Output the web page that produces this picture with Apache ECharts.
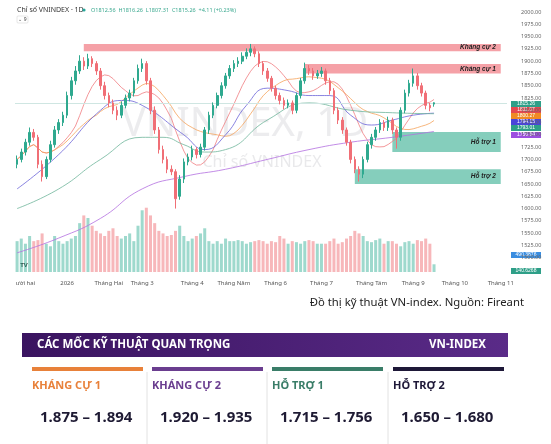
<!DOCTYPE html>
<html><head><meta charset="utf-8">
<script src="https://cdn.jsdelivr.net/npm/echarts@6/dist/echarts.min.js"></script>
<style>html,body{margin:0;padding:0;background:#fff}#c{width:551px;height:444px}</style>
</head><body><div id="c"></div>
<script>
const closes=[1700,1715,1735,1755,1745,1690,1665,1700,1730,1760,1775,1790,1830,1860,1880,1900,1890,1905,1895,1880,1850,1830,1815,1800,1790,1810,1825,1835,1860,1885,1895,1860,1800,1760,1720,1700,1680,1675,1620,1660,1695,1705,1720,1710,1725,1760,1790,1810,1830,1850,1870,1885,1895,1900,1910,1918,1925,1915,1895,1880,1865,1845,1830,1820,1810,1815,1800,1830,1860,1885,1880,1870,1875,1880,1860,1840,1800,1780,1760,1735,1700,1680,1670,1700,1730,1745,1760,1775,1765,1780,1760,1745,1800,1835,1855,1870,1850,1835,1810,1805,1815.26];
const opens=[1690,1700,1715,1735,1755,1745,1690,1665,1700,1730,1760,1775,1790,1830,1860,1880,1900,1890,1905,1895,1880,1850,1830,1815,1800,1790,1810,1825,1835,1860,1885,1895,1860,1800,1760,1720,1700,1680,1675,1625,1660,1695,1705,1720,1710,1725,1760,1790,1810,1830,1850,1870,1885,1895,1900,1910,1918,1925,1915,1895,1880,1865,1845,1830,1820,1810,1815,1800,1830,1860,1885,1880,1870,1875,1880,1860,1840,1800,1780,1760,1735,1700,1680,1670,1700,1730,1745,1760,1775,1765,1780,1760,1745,1800,1835,1855,1870,1850,1835,1810,1812.56];
const highs=[1708,1722,1742,1765,1762,1750,1698,1706,1738,1768,1782,1797,1838,1868,1890,1912,1908,1915,1910,1900,1886,1858,1836,1822,1808,1818,1832,1842,1866,1893,1905,1900,1866,1808,1766,1728,1706,1688,1680,1668,1702,1712,1728,1725,1732,1766,1797,1816,1836,1857,1876,1892,1902,1908,1918,1926,1935,1930,1920,1900,1886,1870,1850,1836,1826,1822,1820,1836,1866,1897,1892,1886,1882,1888,1885,1866,1845,1806,1786,1765,1740,1706,1686,1706,1736,1752,1766,1782,1780,1787,1785,1765,1806,1842,1862,1885,1876,1856,1840,1815,1816.26];
const lows=[1682,1694,1708,1728,1738,1682,1655,1660,1694,1724,1752,1768,1784,1822,1852,1874,1882,1884,1888,1872,1842,1822,1806,1792,1780,1784,1804,1818,1828,1854,1878,1852,1792,1752,1712,1692,1672,1668,1600,1618,1652,1688,1698,1702,1704,1718,1752,1784,1804,1824,1844,1864,1878,1888,1894,1904,1910,1908,1888,1872,1858,1838,1822,1812,1802,1804,1792,1794,1824,1854,1872,1862,1864,1868,1852,1832,1792,1772,1752,1728,1692,1672,1655,1662,1694,1722,1738,1754,1758,1758,1752,1722,1738,1794,1828,1848,1842,1828,1802,1798,1807.31];
const volumes=[60,65,55,70,60,62,75,55,50,70,60,55,60,65,70,95,110,105,90,80,75,70,80,85,70,65,70,75,60,90,120,125,110,95,80,75,70,72,80,90,70,60,65,70,75,85,60,55,60,55,65,60,60,62,60,55,58,60,62,60,55,60,58,70,65,55,60,58,55,60,62,60,55,55,55,60,65,55,58,65,70,80,75,70,60,58,62,65,55,60,60,55,50,58,60,55,62,60,65,55,15];
const maIdx=[0,10,20,25,30,40,45,50,55,60,65,70,75,80,85,90,95,100];
const maBlueVals=[1640,1710,1800,1820,1810,1750,1720,1750,1810,1845,1840,1830,1830,1790,1770,1780,1790,1794.15];
const maGreenIdx=[0,10,20,30,35,40,45,50,60,70,80,90,100];
const maGreenVals=[1600,1640,1700,1745,1745,1730,1715,1720,1780,1815,1800,1795,1793.01];
const maPurpleIdx=[0,10,20,30,40,50,60,70,80,90,100];
const maPurpleVals=[1510,1540,1580,1640,1665,1680,1700,1720,1735,1745,1756.84];
const monthLabels={2:'ười hai',12:'2026',22:'Tháng Hai',30:'Tháng 3',42:'Tháng 4',52:'Tháng Năm',62:'Tháng 6',73:'Tháng 7',85:'Tháng Tám',95:'Tháng 9',105:'Tháng 10',116:'Tháng 11'};
const zones=[
 {name:'Kháng cự 2',lo:1920,hi:1935,from:16,color:'rgba(242,130,138,0.75)'},
 {name:'Kháng cự 1',lo:1875,hi:1894,from:69,color:'rgba(242,130,138,0.75)'},
 {name:'Hỗ trợ 1',lo:1715,hi:1756,from:90,color:'rgba(92,190,165,0.75)'},
 {name:'Hỗ trợ 2',lo:1650,hi:1680,from:81,color:'rgba(92,190,165,0.75)'}];
const N=118;
const cats=[];for(let i=0;i<N;i++)cats.push(String(i));
function sparse(idx,vals){const a=new Array(N).fill(null);idx.forEach((k,j)=>a[k]=vals[j]);return a;}
function ma(n){return closes.map((v,i)=>{const s=closes.slice(Math.max(0,i-n+1),i+1);return +(s.reduce((a,b)=>a+b,0)/s.length).toFixed(2);});}
const up='#2fa98f',dn='#f06f76';
const candle=closes.map((c,i)=>[opens[i],c,lows[i],highs[i]]);
const vol=volumes.map((v,i)=>({value:v,itemStyle:{color:closes[i]>=opens[i]?'rgba(61,179,156,0.5)':'rgba(240,111,118,0.5)'}}));
const chart=echarts.init(document.getElementById('c'));
const tag=(y,t,c)=>({type:'group',children:[{type:'rect',shape:{x:511,y:y-3,width:30,height:6},style:{fill:c}},{type:'text',style:{x:526,y:y,text:t,fill:'#fff',font:'5px sans-serif',align:'center',verticalAlign:'middle'}}]});
chart.setOption({
 animation:false,
 grid:[{left:15,right:44,top:12,bottom:174},{left:15,right:44,top:200,bottom:172}],
 xAxis:[{type:'category',data:cats,gridIndex:0,boundaryGap:true,axisLine:{show:false},axisTick:{show:false},axisLabel:{show:false},splitLine:{show:false}},
  {type:'category',data:cats,gridIndex:1,boundaryGap:true,axisLine:{show:false},axisTick:{show:false},splitLine:{show:false},
   axisLabel:{interval:0,formatter:(v,i)=>monthLabels[i]||'',color:'#555',fontSize:6,margin:8,fontFamily:'Noto Sans'}}],
 yAxis:[{type:'value',gridIndex:0,position:'right',min:1475,max:2000,interval:25,splitLine:{show:false},axisLine:{show:false},axisTick:{show:false},
   axisLabel:{formatter:v=>v>=1500?v.toFixed(2):'',fontSize:5.5,color:'#666',margin:14,fontFamily:'Noto Sans'}},
  {type:'value',gridIndex:1,max:140,show:false}],
 series:[
  {type:'bar',xAxisIndex:1,yAxisIndex:1,data:vol,barWidth:3,z:1},
  {type:'candlestick',data:candle,barMaxWidth:3,z:5,itemStyle:{color:up,color0:dn,borderColor:up,borderColor0:dn},
   markArea:{silent:true,data:zones.map(z=>[{xAxis:String(z.from),yAxis:z.lo,itemStyle:{color:z.color},label:{show:true,position:'insideRight',formatter:z.name,fontStyle:'italic',fontWeight:'bold',fontSize:6.5,color:'#222'}},{xAxis:String(116),yAxis:z.hi}])},
   markLine:{silent:true,symbol:'none',label:{show:false},lineStyle:{color:'#cfe6e2',type:'solid',width:1},data:[{yAxis:1815.26}]}},
  {type:'line',data:ma(10),showSymbol:false,lineStyle:{color:'#f07c80',width:0.8},z:4},
  {type:'line',data:ma(20),showSymbol:false,lineStyle:{color:'#f5a35c',width:0.8},z:4},
  {type:'line',data:sparse(maIdx,maBlueVals),connectNulls:true,smooth:true,showSymbol:false,lineStyle:{color:'#6b63d8',width:0.8},z:4},
  {type:'line',data:sparse(maGreenIdx,maGreenVals),connectNulls:true,smooth:true,showSymbol:false,lineStyle:{color:'#6fb59b',width:0.8},z:4},
  {type:'line',data:sparse(maPurpleIdx,maPurpleVals),connectNulls:true,smooth:true,showSymbol:false,lineStyle:{color:'#b26ee0',width:0.8},z:4}
 ],
 graphic:[
  {type:'text',z:0,style:{x:245,y:125,text:'VNINDEX, 1D',fill:'rgba(200,200,205,0.35)',font:'40px Noto Sans',align:'center',verticalAlign:'middle'}},
  {type:'text',z:0,style:{x:262,y:162,text:'Chỉ số VNINDEX',fill:'rgba(200,200,205,0.4)',font:'16px Noto Sans',align:'center',verticalAlign:'middle'}},
  {type:'text',style:{x:17,y:10,text:'Chỉ số VNINDEX · 1D',fill:'#333',font:'7px Noto Sans',verticalAlign:'middle'}},
  {type:'circle',shape:{cx:84,cy:10,r:1.6},style:{fill:'#26a69a'}},
  {type:'text',style:{x:91,y:10,text:'O1812.56  H1816.26  L1807.31  C1815.26  +4.11 (+0.23%)',fill:'#3aa88f',font:'5.5px Noto Sans',verticalAlign:'middle'}},
  {type:'rect',shape:{x:17,y:16,width:11,height:7,r:1},style:{fill:'#fff',stroke:'#ccc',lineWidth:0.5}},
  {type:'text',style:{x:22.5,y:19.5,text:'⌄ 9',fill:'#444',font:'5px Noto Sans',align:'center',verticalAlign:'middle'}},
  {type:'circle',shape:{cx:24,cy:265,r:6},style:{fill:'#fff'}},
  {type:'text',style:{x:24,y:265,text:'TV',fill:'#111',font:'bold 6px Noto Sans',align:'center',verticalAlign:'middle'}},
  tag(104,'1815.26','#2e9f88'),tag(110,'1811.07','#e5484f'),tag(116,'1800.27','#f08a24'),
  tag(122,'1794.15','#4a45d9'),tag(128,'1793.01','#2e9f88'),tag(135,'1756.84','#9c4fe0'),
  tag(255,'490.3876','#3a8de0'),tag(271,'140.6268','#2e9f88'),
  {type:'text',style:{x:524,y:303,text:'Đồ thị kỹ thuật VN-index. Nguồn: Fireant',fill:'#222',font:'11.3px Noto Sans',align:'right',verticalAlign:'middle'}},
  {type:'rect',shape:{x:22,y:333,width:486,height:24},style:{fill:new echarts.graphic.LinearGradient(0,0,1,0,[{offset:0,color:'#3a1460'},{offset:1,color:'#5a2b88'}])}},
  {type:'text',style:{x:37,y:345,text:'CÁC MỐC KỸ THUẬT QUAN TRỌNG',fill:'#fff',font:'bold 11.5px Noto Sans',verticalAlign:'middle'}},
  {type:'text',style:{x:486,y:345,text:'VN-INDEX',fill:'#fff',font:'bold 11.5px Noto Sans',align:'right',verticalAlign:'middle'}},
  ...[['KHÁNG CỰ 1','1.875 – 1.894','#e8813a',32],['KHÁNG CỰ 2','1.920 – 1.935','#6a3d8f',152],['HỖ TRỢ 1','1.715 – 1.756','#3a7d68',272],['HỖ TRỢ 2','1.650 – 1.680','#1e1838',393]].flatMap(([t,v,c,x])=>[
   {type:'rect',shape:{x:x,y:367,width:111,height:4},style:{fill:c}},
   {type:'text',style:{x:x,y:386,text:t,fill:c,font:'bold 11px Noto Sans',verticalAlign:'middle'}},
   {type:'text',style:{x:x+8,y:418,text:v,fill:'#1e1a33',font:'bold 15px Noto Sans',verticalAlign:'middle'}}]),
  ...[147,267,388].map(x=>({type:'line',shape:{x1:x,y1:372,x2:x,y2:444},style:{stroke:'#e2e2e2',lineWidth:1}}))
 ]
});
</script></body></html>
